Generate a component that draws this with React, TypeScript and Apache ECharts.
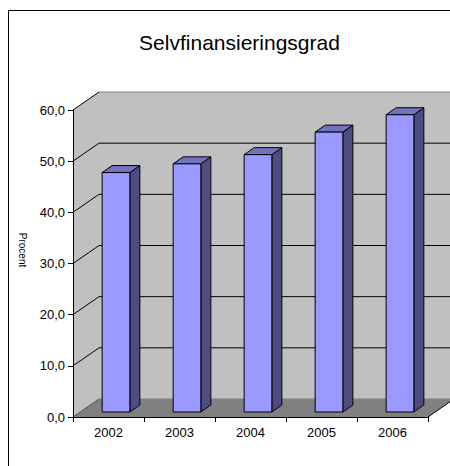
import React, { useEffect, useRef } from "react";
import * as echarts from "echarts";

const years = ["2002", "2003", "2004", "2005", "2006"];
const values = [46.8, 48.5, 50.3, 54.7, 58.1];
const yTicks = [0, 10, 20, 30, 40, 50, 60];
const titleText = "Selvfinansieringsgrad";
const yAxisName = "Procent";

const FONT = "'Liberation Sans', Arial, sans-serif";
const DX = 26;
const DY = 18;
const FX = 7.5;
const FY = 5;
const BDX = 10;
const BDY = 7;

export default function App() {
  const ref = useRef<HTMLDivElement>(null);
  useEffect(() => {
    document.body.style.margin = "0";
    const chart = echarts.init(ref.current!, null, { renderer: "svg" });
    const fmt = (v: number) => v.toFixed(1).replace(".", ",");
    chart.setOption({
      animation: false,
      backgroundColor: "#fff",
      title: {
        text: titleText,
        left: 234.5,
        textAlign: "center",
        top: 27,
        textStyle: { fontFamily: FONT, fontSize: 21, fontWeight: "normal", color: "#000" },
      },
      graphic: [
        {
          type: "rect",
          shape: { x: 8.5, y: 10.5, width: 600, height: 600 },
          style: { fill: "none", stroke: "#000", lineWidth: 1 },
          z: 100,
        },
        {
          type: "text",
          x: 22,
          y: 250,
          rotation: -Math.PI / 2,
          style: {
            text: yAxisName,
            fontFamily: FONT,
            fontSize: 10,
            fill: "#000",
            align: "center",
            verticalAlign: "middle",
          },
        },
      ],
      grid: { left: 73, top: 110, width: 355, height: 307 },
      xAxis: {
        type: "category",
        data: years,
        boundaryGap: true,
        axisLine: { show: true, lineStyle: { color: "#000", width: 1 } },
        axisTick: { show: true, length: 5, lineStyle: { color: "#000" } },
        axisLabel: { color: "#000", fontSize: 13, fontFamily: FONT, margin: 9 },
        splitLine: { show: false },
      },
      yAxis: {
        type: "value",
        min: 0,
        max: 60,
        interval: 10,
        axisLine: { show: true, lineStyle: { color: "#000", width: 1 } },
        axisTick: { show: true, length: 5, lineStyle: { color: "#000" } },
        axisLabel: { color: "#000", fontSize: 13, fontFamily: FONT, margin: 8, formatter: fmt },
        splitLine: { show: false },
      },
      series: [
        {
          type: "custom",
          name: "walls",
          z: -1,
          silent: true,
          data: [[0, 0]],
          renderItem: (params: any, api: any) => {
            const cs = params.coordSys;
            const x0 = cs.x;
            const x1 = cs.x + cs.width;
            const yT = cs.y;
            const yB = cs.y + cs.height;
            const yOf = (v: number) => api.coord([0, v])[1];
            const children: any[] = [
              {
                type: "polygon",
                shape: { points: [[x0, yB], [x0, yT], [x0 + DX, yT - DY], [x0 + DX, yB - DY]] },
                style: { fill: "#C0C0C0" },
              },
              {
                type: "rect",
                shape: { x: x0 + DX, y: yT - DY, width: cs.width, height: cs.height },
                style: { fill: "#C0C0C0", stroke: "#808080", lineWidth: 1 },
              },
              {
                type: "line",
                shape: { x1: x0 + DX, y1: yT - DY, x2: x0 + DX, y2: yB - DY },
                style: { stroke: "#E0E0E0", lineWidth: 1 },
              },
              {
                type: "polygon",
                shape: { points: [[x0, yB], [x1, yB], [x1 + DX, yB - DY], [x0 + DX, yB - DY]] },
                style: { fill: "#808080" },
              },
              {
                type: "line",
                shape: { x1: x1, y1: yB, x2: x1 + DX, y2: yB - DY },
                style: { stroke: "#000", lineWidth: 1 },
              },
            ];
            yTicks.forEach((v, i) => {
              const y = yOf(v);
              children.push({
                type: "line",
                shape: { x1: x0, y1: y, x2: x0 + DX, y2: y - DY },
                style: { stroke: i === 0 ? "#505050" : "#000", lineWidth: 1 },
              });
              if (i > 0 && i < yTicks.length - 1) {
                children.push({
                  type: "line",
                  shape: { x1: x0 + DX, y1: y - DY, x2: x1 + DX, y2: y - DY },
                  style: { stroke: "#000", lineWidth: 1 },
                });
              }
            });
            return { type: "group", children };
          },
        },
        {
          type: "custom",
          name: "Selvfinansieringsgrad",
          z: 5,
          data: years.map((_, i) => [i, values[i]]),
          renderItem: (params: any, api: any) => {
            const idx = api.value(0);
            const v = api.value(1);
            const top = api.coord([idx, v]);
            const base = api.coord([idx, 0]);
            const band = api.size([1, 0])[0];
            const bw = band * 0.39;
            const L = top[0] - bw / 2 + FX;
            const R = L + bw;
            const T = top[1] - FY;
            const B = base[1] - FY;
            const stroke = { stroke: "#000", lineWidth: 1, lineJoin: "round" };
            return {
              type: "group",
              children: [
                {
                  type: "polygon",
                  shape: { points: [[R, B], [R, T], [R + BDX, T - BDY], [R + BDX, B - BDY]] },
                  style: { fill: "#4D4D80", ...stroke },
                },
                {
                  type: "polygon",
                  shape: { points: [[L, T], [R, T], [R + BDX, T - BDY], [L + BDX, T - BDY]] },
                  style: { fill: "#7373BF", ...stroke },
                },
                {
                  type: "rect",
                  shape: { x: L, y: T, width: bw, height: B - T },
                  style: { fill: "#9999FF", ...stroke },
                },
              ],
            };
          },
        },
      ],
    });
    return () => chart.dispose();
  }, []);
  return <div ref={ref} style={{ width: 450, height: 466 }} />;
}
